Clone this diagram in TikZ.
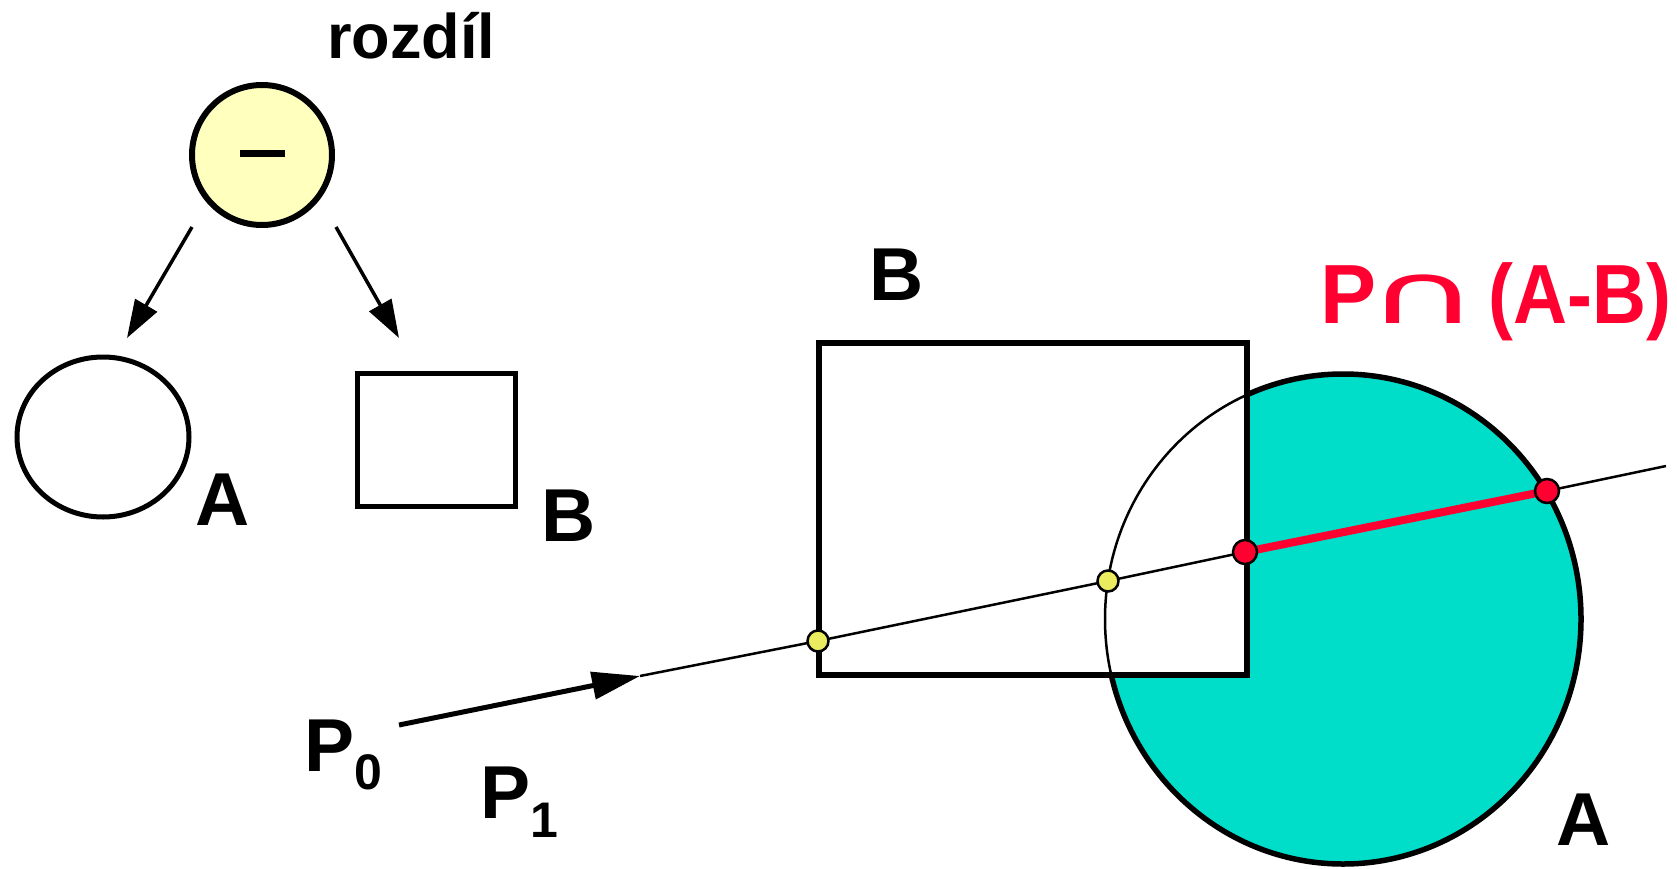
\documentclass[tikz,border=0pt]{standalone}
\usepackage{fontspec}
\setmainfont{Liberation Sans}
\newfontfamily\symbolfont{DejaVu Sans}
\usetikzlibrary{arrows.meta}
\definecolor{tyrkys}{RGB}{0,222,202}
\definecolor{cervena}{RGB}{255,0,48}
\definecolor{zluta}{RGB}{235,235,95}
\definecolor{svetle}{RGB}{255,255,190}
\newcommand{\velke}{\fontsize{75}{80}\selectfont\bfseries}
\begin{document}
\begin{tikzpicture}[x=1pt,y=-1pt,
  pismeno/.style={font=\velke},
  zbod/.style={circle,draw,line width=2.5pt,fill=zluta,inner sep=0pt,minimum size=21pt},
  cbod/.style={circle,draw,line width=2.5pt,fill=cervena,inner sep=0pt,minimum size=24pt},
  sipka/.style={line width=3.5pt,-{Triangle[length=38pt,width=25pt]}}]
\useasboundingbox (0,0) rectangle (1677,869);
% operace rozdil
\node[font=\fontsize{63}{66}\selectfont\bfseries] (nazev) at (411,36) {rozdíl};
\node[circle,draw,line width=6pt,fill=svetle,inner sep=0pt,minimum size=140pt] (minus) at (262,155) {\raisebox{2pt}{\rule{45pt}{7pt}}};
\coordinate (zacA) at (192,227);
\coordinate (konA) at (127,338);
\coordinate (zacB) at (336,227);
\coordinate (konB) at (399,338);
\draw[sipka] (zacA)--(konA);
\draw[sipka] (zacB)--(konB);
\draw[line width=5pt] (103,437) ellipse[x radius=86, y radius=80];
\draw[line width=5pt] (357,373) rectangle (515,506);
\node[pismeno] (malyA) at (223,500) {A};
\node[pismeno] (malyB) at (569,516) {B};
% A-B
\begin{scope}
\clip (1343,619) ellipse[x radius=238, y radius=245];
\fill[tyrkys,even odd rule] (1000,300) rectangle (1700,900) (819,343) rectangle (1247,675);
\end{scope}
\draw[line width=2.5pt] (1343,619) ellipse[x radius=238, y radius=245];
\begin{scope}[even odd rule]
\clip (1000,300) rectangle (1700,900) (819,343) rectangle (1247,675);
\draw[line width=5.5pt] (1343,619) ellipse[x radius=238, y radius=245];
\end{scope}
\draw[line width=6pt] (819,343) rectangle (1247,675);
\node[pismeno] (velkyB) at (897,275) {B};
\node[pismeno] (velkyA) at (1584,820) {A};
% paprsek
\coordinate (P0) at (399,725);
\coordinate (hrot) at (640,676);
\coordinate (Q1) at (818,641);
\coordinate (Q2) at (1108,581);
\coordinate (R1) at (1245,552);
\coordinate (R2) at (1547,491);
\coordinate (konec) at (1666,466);
\draw[line width=5pt,-{Triangle[length=48pt,width=27pt]}] (P0)--(hrot);
\draw[line width=2.5pt] (hrot)--(Q1)--(Q2)--(R1)--(R2)--(konec);
\draw[cervena,line width=8pt] (R1)--(R2);
\node[zbod] (b1) at (Q1) {};
\node[zbod] (b2) at (Q2) {};
\node[cbod] (c1) at (R1) {};
\node[cbod] (c2) at (R2) {};
\node[pismeno,anchor=base west] (p0) at (301,771) {P\raisebox{-18pt}{\fontsize{50}{50}\selectfont 0}};
\node[pismeno,anchor=base west] (p1) at (477,818) {P\raisebox{-19pt}{\fontsize{50}{50}\selectfont 1}};
\node[font=\fontsize{84}{90}\selectfont\bfseries,text=cervena,anchor=base west] (vysledek) at (1317,323)
  {P\hspace{-10pt}\scalebox{1.85}[1]{\symbolfont\mdseries ∩}\hspace{8pt}\scalebox{0.89}[1]{(A-B)}};
\end{tikzpicture}
\end{document}
